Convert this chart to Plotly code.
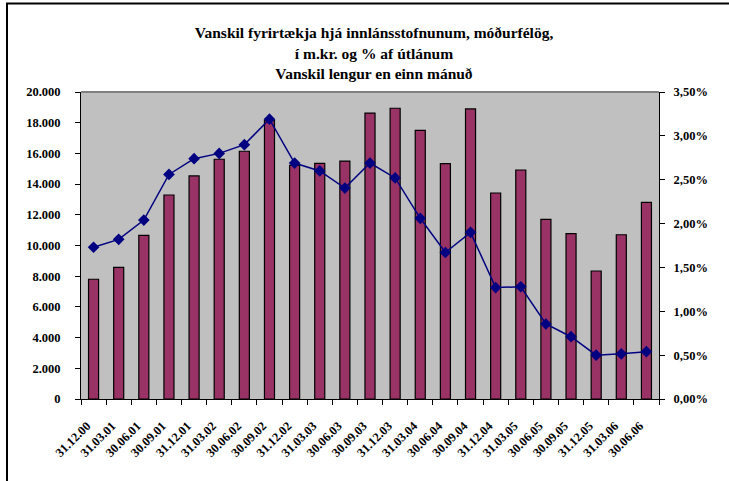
import plotly.graph_objects as go

categories = ["31.12.00", "31.03.01", "30.06.01", "30.09.01", "31.12.01", "31.03.02",
              "30.06.02", "30.09.02", "31.12.02", "31.03.03", "30.06.03", "30.09.03",
              "31.12.03", "31.03.04", "30.06.04", "30.09.04", "31.12.04", "31.03.05",
              "30.06.05", "30.09.05", "31.12.05", "31.03.06", "30.06.06"]
vanskil_mkr = [7800, 8580, 10660, 13290, 14530, 15620, 16140, 18130, 15220, 15350,
               15500, 18630, 18940, 17500, 15330, 18900, 13420, 14920, 11700, 10770,
               8340, 10700, 12810]
vanskil_pct = [1.73, 1.82, 2.04, 2.56, 2.74, 2.80, 2.90, 3.19, 2.69, 2.60, 2.405, 2.69,
               2.52, 2.06, 1.67, 1.90, 1.27, 1.28, 0.855, 0.71, 0.50, 0.515, 0.54]
pct_frac = [v / 100 for v in vanskil_pct]

left_ticks = list(range(0, 20001, 2000))
left_labels = ["0" if v == 0 else f"{v // 1000}.{v % 1000:03d}" for v in left_ticks]
right_ticks = [i * 0.005 for i in range(8)]
right_labels = [f"{v*100:.2f}%".replace(".", ",") for v in right_ticks]

SERIF = "Liberation Serif, Times New Roman, DejaVu Serif, serif"
font = dict(family=SERIF, size=12, color="black")

fig = go.Figure()
fig.add_trace(go.Bar(x=categories, y=vanskil_mkr, marker=dict(color="#993366",
                     line=dict(color="black", width=1.2)), name="m.kr."))
fig.add_trace(go.Scatter(x=categories, y=pct_frac, yaxis="y2", mode="lines+markers",
                         line=dict(color="#000080", width=1.5),
                         marker=dict(symbol="diamond", size=9, color="#000080"),
                         name="%"))

fig.update_layout(
    width=729, height=481,
    margin=dict(l=81, r=70, t=92, b=82),
    paper_bgcolor="white", plot_bgcolor="#C0C0C0",
    showlegend=False, bargap=0.6,
    font=font,
    title=dict(text="<b>Vanskil fyrirtækja hjá innlánsstofnunum, móðurfélög,<br>í m.kr. og % af útlánum<br>Vanskil lengur en einn mánuð</b>",
               x=374 / 729, xanchor="center", y=0.92, yanchor="top",
               font=dict(family=SERIF, size=15.5, color="black")),
    xaxis=dict(type="category", range=[-0.5, len(categories) - 0.5], tickangle=-45,
               showgrid=False, showline=True,
               linecolor="black", linewidth=1, ticks="outside", tickson="boundaries",
               ticklen=5, tickcolor="black", automargin=False, ticklabelstandoff=7,
               tickfont=dict(family=SERIF, size=12.5, color="black"),
               tickvals=categories,
               ticktext=[f"<b>{c}</b>\u00a0\u00a0\u00a0" for c in categories]),
    yaxis=dict(range=[0, 20000], tickvals=left_ticks, ticktext=[f"<b>{t}</b>" for t in left_labels],
               showgrid=False, showline=True, linecolor="black", linewidth=1,
               ticks="outside", ticklen=5, tickcolor="black", zeroline=False,
               automargin=False, ticklabelstandoff=12,
               tickfont=dict(family=SERIF, size=12.5, color="black")),
    yaxis2=dict(range=[0, 0.035], tickvals=right_ticks, ticktext=[f"<b>{t}</b>" for t in right_labels],
                overlaying="y", side="right", showgrid=False, showline=True,
                linecolor="black", linewidth=1, ticks="outside", ticklen=5,
                tickcolor="black", zeroline=False, automargin=False, ticklabelstandoff=6,
                tickfont=dict(family=SERIF, size=12.5, color="black")),
)

# gray top edge of plot area
fig.add_shape(type="line", xref="paper", yref="paper", x0=0, x1=1, y0=1, y1=1,
              line=dict(color="#808080", width=2))
# outer chart frame (partially cropped)
fig.add_shape(type="rect", xref="paper", yref="paper",
              x0=(7 - 81) / 578, x1=(760 - 81) / 578,
              y0=(399 - 520) / 307, y1=(399 - 3.5) / 307,
              line=dict(color="black", width=2), layer="below")

fig.write_html("out.html", config={"displayModeBar": False},
               post_script="document.body.style.margin='0';")
